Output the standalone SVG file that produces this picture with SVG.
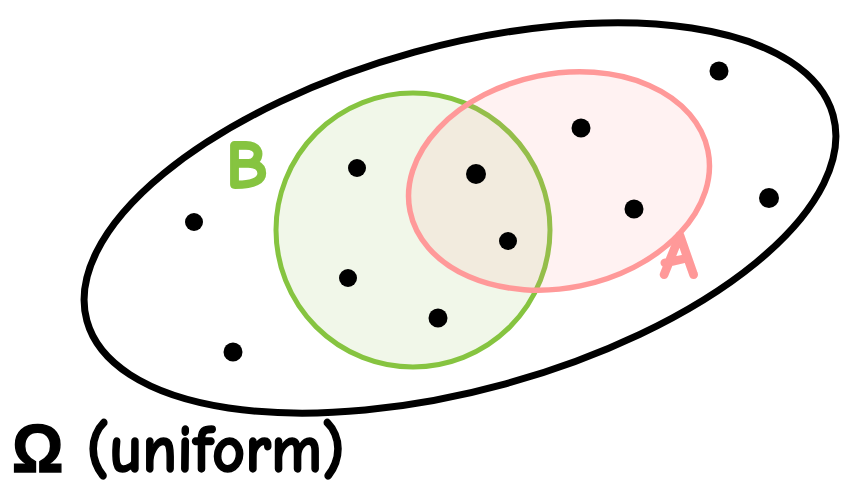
<svg xmlns="http://www.w3.org/2000/svg" width="842" height="493" viewBox="0 0 842 493">
<style>
.dot{fill:#000}
.lbl{font-family:"Comic Neue","Liberation Sans",sans-serif;font-weight:bold}
</style>
<rect width="842" height="493" fill="#fff"/>
<g id="omega">
<ellipse cx="460" cy="218" rx="387" ry="172" transform="rotate(-15.4 460 218)" fill="none" stroke="#000" stroke-width="7"/>
</g>
<g id="setB">
<circle cx="413" cy="230" r="137" fill="#f1f7e9" stroke="#86c440" stroke-width="5"/>
</g>
<g id="setA">
<ellipse cx="559" cy="181" rx="152" ry="107" transform="rotate(-11.5 559 181)" fill="#ff9999" fill-opacity="0.13" stroke="#ff9999" stroke-width="5.5"/>
</g>
<g id="points">
<circle class="dot" cx="719" cy="71" r="9.5"/>
<circle class="dot" cx="581" cy="128" r="9.5"/>
<circle class="dot" cx="357" cy="168" r="9"/>
<circle class="dot" cx="476" cy="174" r="10"/>
<circle class="dot" cx="194" cy="222" r="9"/>
<circle class="dot" cx="634" cy="209" r="9.5"/>
<circle class="dot" cx="769" cy="198" r="10"/>
<circle class="dot" cx="508" cy="241" r="9"/>
<circle class="dot" cx="348" cy="278" r="9"/>
<circle class="dot" cx="438" cy="318" r="9.5"/>
<circle class="dot" cx="233" cy="352" r="9.5"/>
</g>
<g id="labels">
<text class="lbl" x="226" y="188" font-size="68" fill="#86c440" stroke="#86c440" stroke-width="2">B</text>
<text class="lbl" x="660" y="278" font-size="68" fill="#ff9999" stroke="#ff9999" stroke-width="2">A</text>
<text class="lbl" x="12" y="472" font-size="68" fill="#000" stroke="#000" stroke-width="1.5" textLength="333" lengthAdjust="spacingAndGlyphs">Ω (uniform)</text>
</g>
</svg>
